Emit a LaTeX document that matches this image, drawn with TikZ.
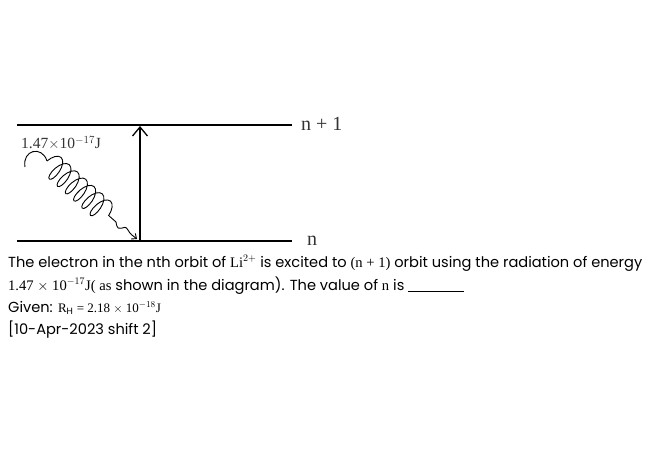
\documentclass[tikz,border=0pt]{standalone}
\usepackage{fontspec}
\setmainfont{Poppins}
\newfontfamily\serifmath{Liberation Serif}
\usetikzlibrary{decorations.pathmorphing,arrows.meta}

\tikzset{
    level/.style={line width=1.6pt},
    photon/.style={decorate, decoration={coil, aspect=0.45, segment length=11pt, amplitude=12pt}, line width=0.9pt},
    qtext/.style={anchor=base west, inner sep=0pt, font=\fontsize{14.6}{17}\selectfont},
}
\newcommand{\sm}[1]{{\serifmath #1}}

\begin{document}
\begin{tikzpicture}[x=1pt,y=-1pt]
    \useasboundingbox (0,0) rectangle (650,450);

    % Energy levels
    \coordinate (upL) at (17,125);
    \coordinate (upR) at (292,125);
    \coordinate (lowL) at (17,241);
    \coordinate (lowR) at (292,241);
    \draw[level] (upL) -- (upR);
    \draw[level] (lowL) -- (lowR);
    \node[anchor=west, font=\serifmath\fontsize{20}{21}\selectfont, inner sep=0pt, text=black!80] (nup) at (301,124) {n + 1};
    \node[anchor=west, font=\serifmath\fontsize{20}{21}\selectfont, inner sep=0pt, text=black!80] (nlow) at (307,241) {n};

    % Excitation arrow
    \coordinate (arrBot) at (140,241);
    \coordinate (arrTop) at (140,126);
    \draw[line width=1.3pt, -{Straight Barb[length=9pt,width=15pt]}] (arrBot) -- (arrTop);

    % Photon
    \node[anchor=west, font=\serifmath\fontsize{15.5}{16}\selectfont, inner sep=0pt, text=black!80] (elabel) at (21,143) {1.47$\times$10$^{-17}$J};
    \coordinate (phStart) at (25,167);
    \coordinate (phCoil) at (47,161);
    \coordinate (phEnd) at (116,222);
    \coordinate (phTip) at (137,239);
    \draw[line width=0.9pt] (phStart) .. controls (22,150) and (42,145) .. (phCoil);
    \draw[photon] (phCoil) -- (phEnd);
    \draw[line width=0.9pt, -{Straight Barb[length=4pt,width=7pt]}] (phEnd) .. controls (118,236) and (124,222) .. (128,230) .. controls (130,234) and (133,236) .. (phTip);

    % Question text
    \node[qtext] (line1) at (8,267) {The electron in the nth orbit of \sm{Li$^{2+}$} is excited to \sm{(n + 1)} orbit using the radiation of energy};
    \node[qtext] (line2) at (8,290) {\sm{1.47 $\times$ 10$^{-17}$J( as} shown in the diagram). The value of \sm{n} is \rule[-1pt]{56pt}{0.5pt}};
    \node[qtext] (line3) at (8,312) {Given: {\serifmath\fontsize{13}{15}\selectfont R$_{\mathrm{H}}$ = 2.18 $\times$ 10$^{-18}$J}};
    \node[qtext] (line4) at (8,334) {[10-Apr-2023 shift 2]};
\end{tikzpicture}
\end{document}
